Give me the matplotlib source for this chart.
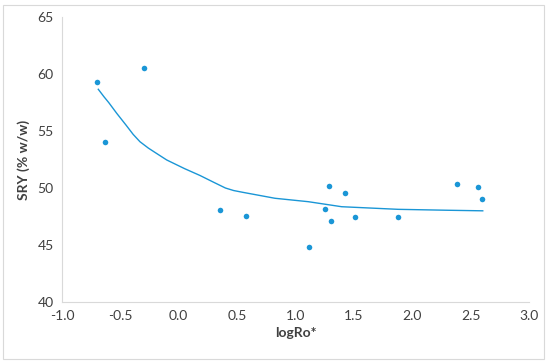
import numpy as np
import matplotlib.pyplot as plt
from matplotlib.patches import Rectangle

plt.rcParams['font.family'] = ['Lato', 'DejaVu Sans']

# measured points
log_ro = [-0.698, -0.634, -0.30, 0.351, 0.576, 1.113, 1.253, 1.284, 1.301,
          1.424, 1.51, 1.878, 2.386, 2.56, 2.595]
sry = [59.27, 54.04, 60.53, 48.04, 47.54, 44.8, 48.2, 50.15, 47.08,
       49.56, 47.46, 47.46, 50.32, 50.06, 49.06]

# fitted curve
fit_x = [-0.689, -0.64, -0.60, -0.531, -0.45, -0.39, -0.332, -0.26, -0.20,
         -0.103, 0.05, 0.182, 0.30, 0.40, 0.47, 0.55, 0.824, 1.11, 1.395,
         1.88, 2.30, 2.604]
fit_y = [58.66, 58.0, 57.5, 56.55, 55.5, 54.7, 54.06, 53.5, 53.1,
         52.46, 51.7, 51.1, 50.5, 50.0, 49.78, 49.62, 49.1, 48.8, 48.36,
         48.13, 48.05, 48.0]

blue = '#1a96d6'
grey = '#404040'

fig = plt.figure(figsize=(5.5, 3.62), dpi=100)
ax = fig.add_axes([0.1127, 0.1657, 0.8491, 0.7873])

ax.scatter(log_ro, sry, s=16, color=blue, zorder=3, linewidths=0)
ax.plot(fit_x, fit_y, color=blue, lw=1.0)

ax.set_xlim(-1.0, 3.0)
ax.set_ylim(40, 65)
ax.set_xticks(np.arange(-1.0, 3.01, 0.5))
ax.set_xticklabels([f'{v:.1f}' for v in np.arange(-1.0, 3.01, 0.5)])
ax.set_yticks(range(40, 66, 5))

for s in ['top', 'right']:
    ax.spines[s].set_visible(False)
for s in ['left', 'bottom']:
    ax.spines[s].set_color('#d9d9d9')
    ax.spines[s].set_linewidth(0.8)

ax.tick_params(length=0, labelsize=10, labelcolor=grey, pad=6)
ax.set_xlabel('logRo*', fontsize=10, fontweight='bold', color=grey, labelpad=3)
ax.set_ylabel('SRY (% w/w)', fontsize=10, fontweight='bold', color=grey, labelpad=5)

fig.patches.append(Rectangle((3/550, 3/362), 541/550, 354/362, transform=fig.transFigure,
                             fill=False, edgecolor='#d9d9d9', lw=0.8))

fig.savefig('out.png', dpi=100)
